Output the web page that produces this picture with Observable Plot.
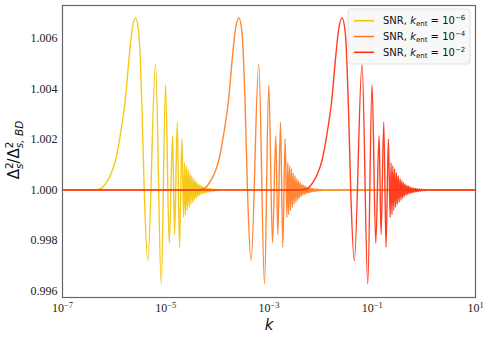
<!DOCTYPE html>
<html><head><meta charset="utf-8">
<script src="https://cdn.jsdelivr.net/npm/d3@7"></script>
<script src="https://cdn.jsdelivr.net/npm/@observablehq/plot@0.6"></script>
<style>body{margin:0;background:#fff;}</style>
</head><body><div id="chart"></div>
<script>
// Series: SNR with k_ent = 10^-6, 10^-4, 10^-2
const kentExponents = [-6, -4, -2];
const seriesColors = ["#f5c200", "#ff7a20", "#ff2a0a"];

// Ratio values (same shape for the three curves)
const ratio = [1.00000, 1.00000, 1.00005, 1.00025, 1.00060, 1.00117, 1.00223, 1.00366, 1.00512, 1.00638,
  1.00681, 1.00619, 1.00287, 1.00000, 0.99721, 1.00499, 0.99629, 1.00416, 0.99790, 1.00215,
  0.99824, 1.00268, 0.99774, 1.00202,
  0.99892, 1.00108, 0.99903, 1.00096, 0.99919, 1.00083, 0.99932, 1.00068, 0.99944, 1.00057,
  0.99952, 1.00046, 0.99960, 1.00037, 0.99968, 1.00029, 0.99975, 1.00023, 0.99980, 1.00018,
  0.99983, 1.00015, 0.99986, 1.00011, 0.99988, 1.00009, 0.99990, 1.00007, 0.99992, 1.00006,
  0.99993, 1.00005, 0.99994, 1.00004, 0.99995, 1.00003, 0.99997, 1.00002, 0.99998, 1.00001,
  1.00000, 1.00000];

// log10(k) positions for each curve
const logK_kent6 = [-7, -6.419, -6.264, -6.167, -6.070, -5.973, -5.876, -5.779, -5.715, -5.649,
  -5.585, -5.521, -5.455, -5.417, -5.347, -5.198, -5.087, -5.004, -4.932, -4.868,
  -4.829, -4.777, -4.733, -4.688,
  -4.653, -4.636, -4.618, -4.601, -4.583, -4.566, -4.548, -4.531, -4.514, -4.496,
  -4.479, -4.461, -4.444, -4.428, -4.411, -4.395, -4.378, -4.362, -4.345, -4.329,
  -4.312, -4.297, -4.279, -4.264, -4.246, -4.231, -4.213, -4.198, -4.180, -4.165,
  -4.147, -4.132, -4.112, -4.093, -4.074, -4.054, -4.031, -4.006, -3.983, -3.957,
  -3.899, 1];
const logK_kent4 = [-7, -4.419, -4.264, -4.167, -4.070, -3.973, -3.876, -3.779, -3.715, -3.649,
  -3.585, -3.521, -3.455, -3.417, -3.347, -3.198, -3.087, -3.004, -2.932, -2.868,
  -2.829, -2.777, -2.733, -2.688,
  -2.653, -2.636, -2.618, -2.601, -2.583, -2.566, -2.548, -2.531, -2.514, -2.496,
  -2.479, -2.461, -2.444, -2.428, -2.411, -2.395, -2.378, -2.362, -2.345, -2.329,
  -2.312, -2.297, -2.279, -2.264, -2.246, -2.231, -2.213, -2.198, -2.180, -2.165,
  -2.147, -2.132, -2.112, -2.093, -2.074, -2.054, -2.031, -2.006, -1.983, -1.957,
  -1.899, 1];
const logK_kent2 = [-7, -2.419, -2.264, -2.167, -2.070, -1.973, -1.876, -1.779, -1.715, -1.649,
  -1.585, -1.521, -1.455, -1.417, -1.347, -1.198, -1.087, -1.004, -0.932, -0.868,
  -0.829, -0.777, -0.733, -0.688,
  -0.653, -0.636, -0.618, -0.601, -0.583, -0.566, -0.548, -0.531, -0.514, -0.496,
  -0.479, -0.461, -0.444, -0.428, -0.411, -0.395, -0.378, -0.362, -0.345, -0.329,
  -0.312, -0.297, -0.279, -0.264, -0.246, -0.231, -0.213, -0.198, -0.180, -0.165,
  -0.147, -0.132, -0.112, -0.093, -0.074, -0.054, -0.031, -0.006, 0.017, 0.043,
  0.101, 1];

const xTicks = [1e-7, 1e-5, 1e-3, 1e-1, 1e1];
const yTicks = [0.996, 0.998, 1.000, 1.002, 1.004, 1.006];

const logKs = [logK_kent6, logK_kent4, logK_kent2];
const rows = [];
logKs.forEach((arr, i) => arr.forEach((l, j) => rows.push({k: Math.pow(10, l), r: ratio[j], s: i})));

const chart = Plot.plot({
  width: 489, height: 338,
  marginLeft: 62, marginRight: 14, marginTop: 5, marginBottom: 41,
  style: {fontFamily: "'Liberation Serif', 'Times New Roman', serif", fontSize: "12px", background: "#fff", color: "#222"},
  x: {type: "log", domain: [1e-7, 10], ticks: xTicks, tickFormat: d => "10^" + Math.round(Math.log10(d)), tickSize: 0, tickPadding: 6, label: null},
  y: {domain: [0.99575, 1.0073], ticks: yTicks, tickFormat: d3.format(".3f"), tickSize: 0, tickPadding: 5, label: null},
  marks: [
    ...kentExponents.map((e, i) => Plot.line(rows.filter(d => d.s === i), {
      x: "k", y: "r", stroke: seriesColors[i], strokeWidth: 1.4, strokeOpacity: 0.9, curve: "monotone-x"
    })),
    Plot.frame({stroke: "#666", strokeWidth: 1.2})
  ]
});
document.getElementById("chart").appendChild(chart);

const svg = d3.select(chart);
// superscript exponents for x tick labels
svg.selectAll('g[aria-label="x-axis tick label"] text').each(function() {
  const t = d3.select(this);
  const parts = t.text().split("^");
  if (parts.length !== 2) return;
  const exp = parts[1].replace("-", "\u2212");
  t.text(parts[0]);
  t.append("tspan").attr("dy", "-0.45em").attr("font-size", "8.5px").text(exp);
});

const NS = "DejaVu Sans, sans-serif";
// x label
svg.append("text").attr("x", 269).attr("y", 330).attr("text-anchor", "middle")
  .attr("font-family", NS).attr("font-style", "italic").attr("font-size", 15).attr("fill", "#111").text("k");

// y label: Δ²_s / Δ²_{s,BD}
const yl = svg.append("text").attr("transform", "translate(19,150) rotate(-90)")
  .attr("text-anchor", "middle").attr("font-family", NS).attr("font-size", 15).attr("fill", "#111");
yl.append("tspan").text("\u0394");
yl.append("tspan").attr("font-size", 10.5).attr("dy", -6).text("2");
yl.append("tspan").attr("font-size", 10.5).attr("font-style", "italic").attr("dx", -6.7).attr("dy", 10).text("s");
yl.append("tspan").attr("dy", -4).text("/\u0394");
yl.append("tspan").attr("font-size", 10.5).attr("dy", -6).text("2");
yl.append("tspan").attr("font-size", 10.5).attr("font-style", "italic").attr("dx", -6.7).attr("dy", 10).text("s, BD");

// legend
const lg = svg.append("g").attr("font-family", NS).attr("font-size", 10).attr("fill", "#111").attr("text-anchor", "start");
lg.append("rect").attr("x", 348).attr("y", 9).attr("width", 122).attr("height", 55).attr("rx", 3)
  .attr("fill", "#f8f8f8").attr("stroke", "#e2e2e2").attr("stroke-width", 1);
kentExponents.forEach((e, i) => {
  const y = 20.7 + i * 15.8;
  lg.append("line").attr("x1", 354).attr("x2", 374).attr("y1", y).attr("y2", y)
    .attr("stroke", seriesColors[i]).attr("stroke-width", 1.5);
  const t = lg.append("text").attr("x", 383).attr("y", y + 3.6).attr("text-anchor", "start");
  t.append("tspan").text("SNR, ");
  t.append("tspan").attr("font-style", "italic").text("k");
  t.append("tspan").attr("font-size", 7).attr("dy", 2).text("ent");
  t.append("tspan").attr("dy", -2).text(" = 10");
  t.append("tspan").attr("font-size", 7).attr("dy", -4).text(String(e).replace("-", "\u2212"));
});
</script>
</body></html>
